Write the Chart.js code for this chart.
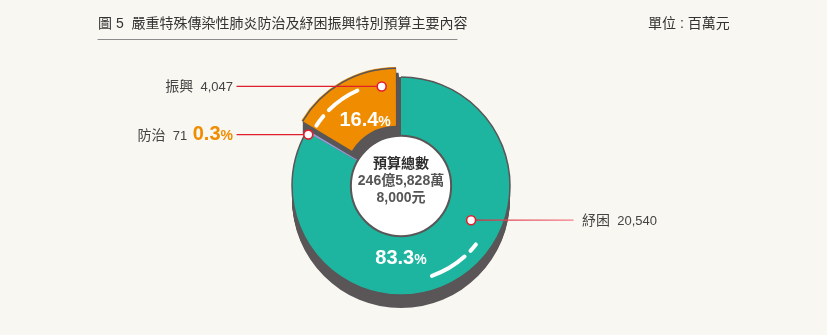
<!DOCTYPE html>
<html lang="zh-Hant">
<head>
<meta charset="utf-8">
<script src="https://cdn.jsdelivr.net/npm/chart.js@4.4.1/dist/chart.umd.min.js"></script>
<style>
  html, body { margin: 0; padding: 0; background: #f8f7f1; }
  #wrap { position: relative; width: 827px; height: 335px; }
</style>
</head>
<body>
<div id="wrap"><canvas id="budgetChart" width="827" height="335"></canvas></div>
<script>
// data (百萬元)
const categories = ['紓困', '防治', '振興'];
const amounts = [20540, 71, 4047];
const totalLines = ['預算總數', '246億5,828萬', '8,000元'];
const titleText = '圖 5  嚴重特殊傳染性肺炎防治及紓困振興特別預算主要內容';
const unitText = '單位 : 百萬元';

const sliceColors = ['#1db5a0', '#9b99d8', '#f08c00'];
const FONT = '"Liberation Sans", "Noto Sans CJK TC", sans-serif';
const CJK = '"Noto Sans CJK TC", "Liberation Sans", sans-serif';
const total = amounts.reduce((a, b) => a + b, 0);
const pct = amounts.map(v => (v / total * 100).toFixed(1));

// decoration placement, in clock degrees measured in each slice's own frame
const glints = [
  { slice: 0, r: 95, segs: [[128, 133], [138, 161]] },
  { slice: 2, r: 95, segs: [[303, 310], [315, 336]] }
];
const pctPos = [{ slice: 0, deg: 180, r: 71 }, { slice: 2, deg: 332, r: 66 }];
const callouts = [
  { slice: 0, deg: 116, r: 78, side: 'right', end: 573 },
  { slice: 1, deg: 299, r: 106, side: 'left', end: 237, showPct: true },
  { slice: 2, deg: 351, r: 92, side: 'left', end: 237 }
];

const rad = deg => (deg - 90) * Math.PI / 180;

function frameOf(arc) {
  const off = (arc.options.offset || 0) / 4;
  const mid = (arc.startAngle + arc.endAngle) / 2;
  return { x: arc.x + Math.cos(mid) * off, y: arc.y + Math.sin(mid) * off };
}

function at(arc, deg, r) {
  const c = frameOf(arc);
  return { x: c.x + Math.cos(rad(deg)) * r, y: c.y + Math.sin(rad(deg)) * r };
}

// dark extruded side under the ring
const extrudePlugin = {
  id: 'extrude',
  beforeDatasetsDraw(chart) {
    const ctx = chart.ctx;
    const arcs = chart.getDatasetMeta(0).data;
    ctx.save();
    ctx.fillStyle = '#5a5657';
    arcs.forEach(arc => {
      const off = (arc.options.offset || 0) / 4;
      const mid = (arc.startAngle + arc.endAngle) / 2;
      const steps = off ? [0, 0.5, 1] : [1];
      steps.forEach(s => {
        const cx = arc.x + Math.cos(mid) * off * s;
        const cy = arc.y + Math.sin(mid) * off * s;
        for (let d = 0; d <= 13; d++) {
          ctx.beginPath();
          ctx.arc(cx, cy + d, arc.outerRadius, arc.startAngle, arc.endAngle);
          ctx.arc(cx, cy + d, arc.innerRadius, arc.endAngle, arc.startAngle, true);
          ctx.closePath();
          ctx.fill();
        }
      });
    });
    ctx.restore();
  }
};

function drawPieces(ctx, pieces, x, y, align) {
  const widths = pieces.map(p => { ctx.font = p.font; return ctx.measureText(p.t).width; });
  const full = widths.reduce((a, b) => a + b, 0);
  let cx = align === 'right' ? x - full : align === 'center' ? x - full / 2 : x;
  ctx.textAlign = 'left';
  ctx.textBaseline = 'alphabetic';
  pieces.forEach((p, i) => {
    ctx.font = p.font;
    ctx.fillStyle = p.color;
    ctx.fillText(p.t, cx, y);
    cx += widths[i];
  });
}

const decorPlugin = {
  id: 'decor',
  afterDatasetsDraw(chart) {
    const ctx = chart.ctx;
    const arcs = chart.getDatasetMeta(0).data;
    const base = arcs[0];
    ctx.save();

    // thin rim on the outer edge
    ctx.strokeStyle = '#5a5657';
    ctx.lineWidth = 1.5;
    [0, 2].forEach(i => {
      const a = arcs[i];
      const c = frameOf(a);
      ctx.beginPath();
      ctx.arc(c.x, c.y, a.outerRadius, a.startAngle, a.endAngle);
      ctx.stroke();
    });

    // hub
    ctx.beginPath();
    ctx.arc(base.x, base.y, base.innerRadius, 0, Math.PI * 2);
    ctx.fillStyle = '#ffffff';
    ctx.fill();
    ctx.lineWidth = 2;
    ctx.strokeStyle = '#5a5657';
    ctx.stroke();

    // white glints
    ctx.strokeStyle = '#ffffff';
    ctx.lineWidth = 4;
    ctx.lineCap = 'round';
    glints.forEach(g => {
      const c = frameOf(arcs[g.slice]);
      g.segs.forEach(([a0, a1]) => {
        ctx.beginPath();
        ctx.arc(c.x, c.y, g.r, rad(a0), rad(a1));
        ctx.stroke();
      });
    });

    // percentages inside the ring
    pctPos.forEach(p => {
      const pt = at(arcs[p.slice], p.deg, p.r);
      drawPieces(ctx, [
        { t: pct[p.slice], font: 'bold 20px ' + FONT, color: '#ffffff' },
        { t: '%', font: 'bold 14px ' + FONT, color: '#ffffff' }
      ], pt.x, pt.y + 7, 'center');
    });

    // centre text
    ctx.textAlign = 'center';
    ctx.textBaseline = 'middle';
    ctx.fillStyle = '#2e2e2e';
    ctx.font = 'bold 14px ' + CJK;
    ctx.fillText(totalLines[0], base.x, base.y - 23);
    ctx.fillStyle = '#555555';
    ctx.font = 'bold 14px ' + FONT;
    ctx.fillText(totalLines[1], base.x, base.y - 5);
    ctx.fillText(totalLines[2], base.x, base.y + 12);

    // callouts
    callouts.forEach(cl => {
      const pt = at(arcs[cl.slice], cl.deg, cl.r);
      ctx.lineWidth = 1.2;
      if (cl.side === 'right') {
        const grad = ctx.createLinearGradient(pt.x, 0, cl.end, 0);
        grad.addColorStop(0, '#d42a3a');
        grad.addColorStop(1, '#f47c8a');
        ctx.strokeStyle = grad;
      } else {
        ctx.strokeStyle = '#e0202e';
      }
      ctx.beginPath();
      ctx.moveTo(pt.x, pt.y);
      ctx.lineTo(cl.end, pt.y);
      ctx.stroke();

      ctx.beginPath();
      ctx.arc(pt.x, pt.y, 4.5, 0, Math.PI * 2);
      ctx.fillStyle = '#ffffff';
      ctx.fill();
      ctx.lineWidth = 1.6;
      ctx.strokeStyle = '#e0202e';
      ctx.stroke();

      const pieces = [
        { t: categories[cl.slice], font: '14px ' + CJK, color: '#444444' },
        { t: '  ' + amounts[cl.slice].toLocaleString('en-US'), font: '13px ' + FONT, color: '#444444' }
      ];
      if (cl.showPct) {
        pieces.push({ t: ' ' + pct[cl.slice], font: 'bold 20px ' + FONT, color: sliceColors[2] });
        pieces.push({ t: '%', font: 'bold 14px ' + FONT, color: sliceColors[2] });
      }
      if (cl.side === 'right') {
        drawPieces(ctx, pieces, cl.end + 9, pt.y + 5, 'left');
      } else {
        drawPieces(ctx, pieces, cl.end - 4, pt.y + 5, 'right');
      }
    });

    // heading
    ctx.textAlign = 'left';
    ctx.textBaseline = 'middle';
    ctx.fillStyle = '#333333';
    ctx.font = '14px ' + FONT;
    ctx.fillText(titleText, 98, 24);
    ctx.fillText(unitText, 648, 24);
    ctx.strokeStyle = '#8a8a8a';
    ctx.lineWidth = 1;
    ctx.beginPath();
    ctx.moveTo(98, 39.5);
    ctx.lineTo(457, 39.5);
    ctx.stroke();

    ctx.restore();
  }
};

const ctx = document.getElementById('budgetChart').getContext('2d');
const chart = new Chart(ctx, {
  type: 'doughnut',
  data: {
    labels: categories,
    datasets: [{
      data: amounts,
      backgroundColor: sliceColors,
      borderWidth: 0,
      offset: [0, 0, 40]
    }]
  },
  options: {
    responsive: false,
    animation: false,
    devicePixelRatio: 1,
    radius: 109,
    cutout: '46%',
    layout: { padding: { left: 0, right: 25, top: 37, bottom: 0 } },
    events: [],
    plugins: {
      legend: { display: false },
      tooltip: { enabled: false }
    }
  },
  plugins: [extrudePlugin, decorPlugin]
});
</script>
</body>
</html>
